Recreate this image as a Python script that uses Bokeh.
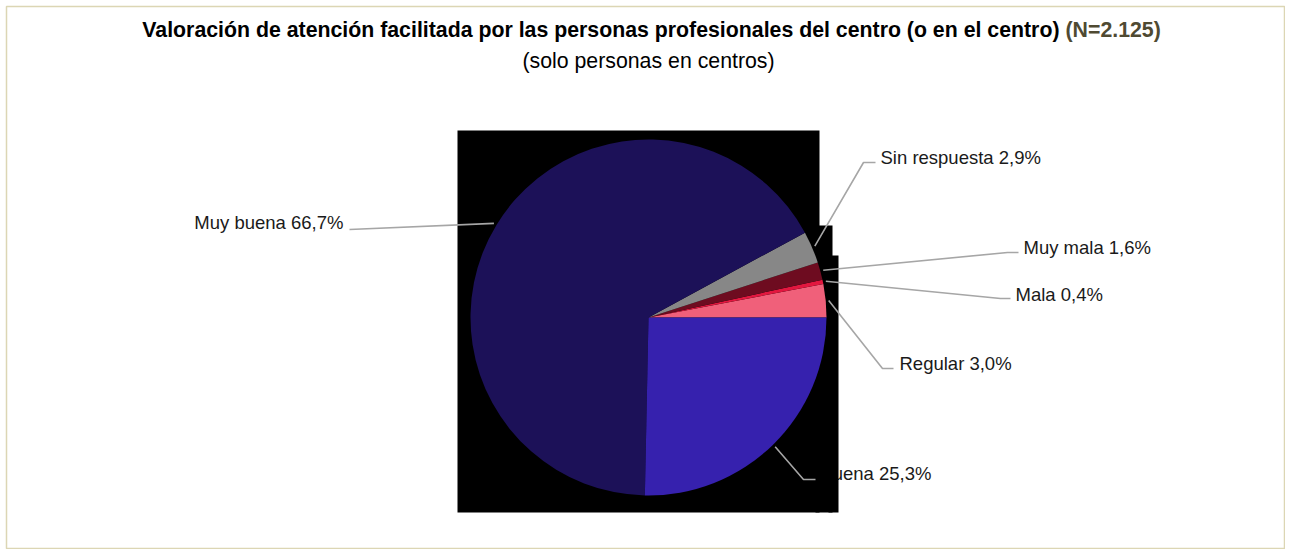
import math
from bokeh.plotting import figure
from bokeh.models import Range1d, ColumnDataSource
from bokeh.core.properties import value
from bokeh.embed import file_html
from bokeh.resources import INLINE

# ---------------- data ----------------
categories = ["Regular", "Mala", "Muy mala", "Sin respuesta", "Muy buena", "Buena"]
values = [3.0, 0.4, 1.6, 2.9, 66.7, 25.3]
colors = ["#F0607A", "#E2173F", "#6E0C20", "#878787", "#1C1158", "#3621AE"]
title_main = "Valoración de atención facilitada por las personas profesionales del centro (o en el centro)"
title_n = "(N=2.125)"
subtitle = "(solo personas en centros)"

# ---------------- layout / styles ----------------
W, H = 1285, 549
FONT = "Liberation Sans"
cx, cy, R = 648, 317, 178
# elbow point, end of horizontal tick, text anchor x, text y, alignment
label_style = {
    "Regular":       dict(elbow=(882, 368), end=(893, 368), tx=899, ty=363, align="left"),
    "Mala":          dict(elbow=(1000, 298), end=(1010, 298), tx=1015, ty=294, align="left"),
    "Muy mala":      dict(elbow=(1007, 252), end=(1018, 252), tx=1023, ty=247, align="left"),
    "Sin respuesta": dict(elbow=(863, 162), end=(875, 162), tx=880, ty=157, align="left"),
    "Muy buena":     dict(elbow=(498, 221), end=(349, 229), tx=343, ty=222, align="right"),
    "Buena":         dict(elbow=(803, 479), end=(815, 479), tx=931, ty=473, align="right"),
}

p = figure(width=W, height=H, output_backend="svg", toolbar_location=None,
           x_range=Range1d(6, W), y_range=Range1d(H, 6),
           min_border_left=6, min_border_top=6, min_border_right=0, min_border_bottom=0,
           background_fill_color="white", border_fill_color="white")
p.axis.visible = False
p.grid.visible = False
p.outline_line_color = "#DCD6B4"
p.outline_line_width = 1.5

# ---------------- angles ----------------
total = sum(values)
starts, ends, mids = [], [], []
acc = 0.0
for v in values:
    a0 = acc / total * 2 * math.pi
    acc += v
    a1 = acc / total * 2 * math.pi
    starts.append(a0)
    ends.append(a1)
    mids.append((a0 + a1) / 2)

labels = [f"{c} {v:.1f}".replace(".", ",") + "%" for c, v in zip(categories, values)]

# ---------------- labels (drawn under the black block) ----------------
for cat, lab in zip(categories, labels):
    st = label_style[cat]
    p.text(x=[st["tx"]], y=[st["ty"]], text=[lab], text_font=value(FONT),
           text_font_size="18.5px", text_color="#1A1A1A", text_align=st["align"],
           text_baseline="middle")

# ---------------- black block behind the pie ----------------
p.quad(left=[457, 815, 828], right=[819, 832, 838], top=[130, 225, 255],
       bottom=[512, 512, 512], fill_color="black", line_color=None)

# ---------------- pie ----------------
src = ColumnDataSource(dict(cat=categories, val=values, start=starts, end=ends, color=colors))
p.wedge(x=cx, y=cy, radius=R, start_angle="start", end_angle="end",
        fill_color="color", line_color=None, source=src)

# ---------------- leader lines ----------------
xs, ys = [], []
for cat, m in zip(categories, mids):
    st = label_style[cat]
    sx = cx + (R + 3) * math.cos(m)
    sy = cy - (R + 3) * math.sin(m)
    if cat == "Muy buena":
        xs.append([sx, st["end"][0]])
        ys.append([sy, st["end"][1]])
    else:
        xs.append([sx, st["elbow"][0], st["end"][0]])
        ys.append([sy, st["elbow"][1], st["end"][1]])
p.multi_line(xs=xs, ys=ys, line_color="#A6A6A6", line_width=1.6)

# ---------------- titles ----------------
p.text(x=[1059], y=[29], text=[title_main], text_font=value(FONT), text_font_size="21.3px",
       text_font_style="bold", text_color="#000000", text_align="right", text_baseline="middle")
p.text(x=[1065], y=[29], text=[title_n], text_font=value(FONT), text_font_size="21.3px",
       text_font_style="bold", text_color="#4F4A32", text_align="left", text_baseline="middle")
p.text(x=[648], y=[60], text=[subtitle], text_font=value(FONT), text_font_size="21.3px",
       text_color="#000000", text_align="center", text_baseline="middle")

open("out.html", "w").write(file_html(p, INLINE))
